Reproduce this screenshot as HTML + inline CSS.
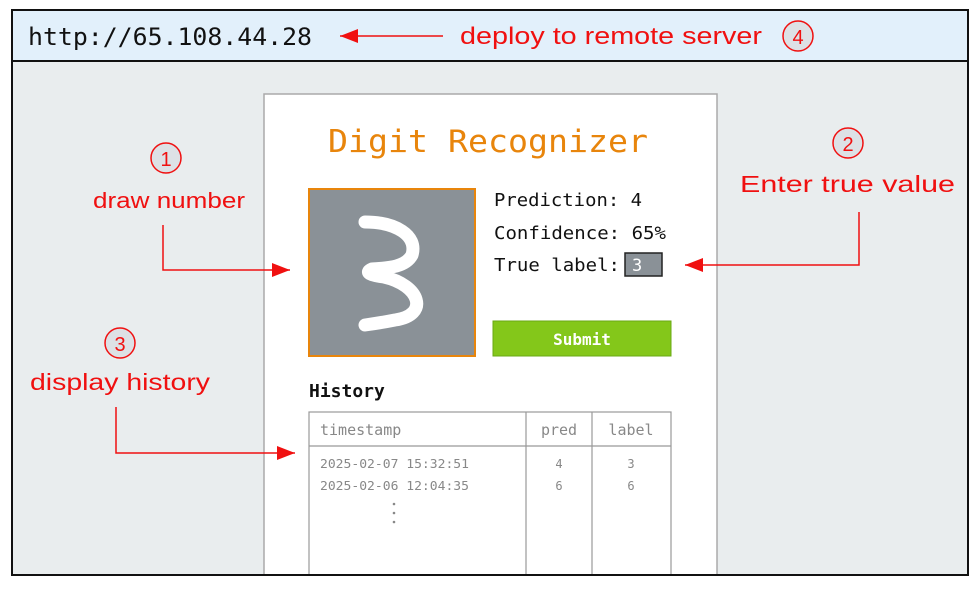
<!DOCTYPE html>
<html><head><meta charset="utf-8"><style>
html,body{margin:0;padding:0;background:#fff;}
svg{display:block}
.m{font-family:"DejaVu Sans Mono","Liberation Mono",monospace}
.h{font-family:"Liberation Sans",sans-serif;fill:#f01010}
</style></head><body>
<svg width="978" height="592" viewBox="0 0 978 592" xmlns="http://www.w3.org/2000/svg">
<defs>
<marker id="ar" viewBox="0 0 18 14" markerWidth="18" markerHeight="14" refX="18" refY="7" orient="auto" markerUnits="userSpaceOnUse"><path d="M0,0 L18,7 L0,14 z" fill="#f01010"/></marker></defs>
<rect x="12" y="10" width="956" height="565" fill="#e9edee" stroke="#111" stroke-width="2"/>
<rect x="12" y="10" width="956" height="51" fill="#e2f0fb" stroke="#111" stroke-width="2"/>
<text x="28" y="45" class="m" font-size="24" fill="#111" textLength="284" lengthAdjust="spacingAndGlyphs">http://65.108.44.28</text>
<line x1="443" y1="36" x2="340" y2="36" stroke="#f01010" stroke-width="1.5" marker-end="url(#ar)"/>
<text x="460" y="44" class="h" font-size="24" textLength="302" lengthAdjust="spacingAndGlyphs">deploy to remote server</text>
<circle cx="798" cy="36" r="15" fill="#dde1e5" stroke="#f01010" stroke-width="1.5"/>
<text x="798" y="44" class="h" font-size="20" text-anchor="middle">4</text>

<rect x="264" y="94" width="453" height="481" fill="#fff" stroke="#aaa" stroke-width="1.5"/>
<text x="328" y="152" class="m" font-size="31" fill="#e8850c" textLength="320" lengthAdjust="spacingAndGlyphs">Digit Recognizer</text>
<rect x="309" y="189" width="166" height="167" fill="#8a9197" stroke="#e8850c" stroke-width="2"/>
<path d="M365,222 C395,222 418,235 412,255 C405,268 385,268 372,269 C365,272 368,275 384,277 C420,285 430,315 395,320 C385,322 372,324 365,325" fill="none" stroke="#fff" stroke-width="13" stroke-linecap="round" stroke-linejoin="round"/>
<text x="494" y="206" class="m" font-size="18" fill="#111" textLength="148" lengthAdjust="spacingAndGlyphs">Prediction: 4</text>
<text x="494" y="239" class="m" font-size="18" fill="#111" textLength="172" lengthAdjust="spacingAndGlyphs">Confidence: 65%</text>
<text x="494" y="271" class="m" font-size="18" fill="#111" textLength="126" lengthAdjust="spacingAndGlyphs">True label:</text>
<rect x="625" y="253" width="37" height="23" fill="#8a9197" stroke="#222" stroke-width="1.5"/>
<text x="632" y="271" class="m" font-size="17" fill="#fff">3</text>
<rect x="493" y="321" width="178" height="35" fill="#84c71a" stroke="#6aa814"/>
<text x="582" y="345" class="m" font-size="16" fill="#fff" text-anchor="middle" font-weight="bold">Submit</text>
<text x="309" y="397" class="m" font-size="18" fill="#111" font-weight="bold">History</text>
<rect x="309" y="412" width="362" height="170" fill="#fff" stroke="#999" stroke-width="1.2"/>
<line x1="309" y1="446" x2="671" y2="446" stroke="#999" stroke-width="1.2"/>
<line x1="526" y1="412" x2="526" y2="580" stroke="#999" stroke-width="1.2"/>
<line x1="592" y1="412" x2="592" y2="580" stroke="#999" stroke-width="1.2"/>
<text x="320" y="435" class="m" font-size="15" fill="#888">timestamp</text>
<text x="559" y="435" class="m" font-size="15" fill="#888" text-anchor="middle">pred</text>
<text x="631" y="435" class="m" font-size="15" fill="#888" text-anchor="middle">label</text>
<g class="m" font-size="12" fill="#888">
<text x="320" y="468" textLength="149" lengthAdjust="spacingAndGlyphs">2025-02-07 15:32:51</text><text x="559" y="468" text-anchor="middle">4</text><text x="631" y="468" text-anchor="middle">3</text>
<text x="320" y="490" textLength="149" lengthAdjust="spacingAndGlyphs">2025-02-06 12:04:35</text><text x="559" y="490" text-anchor="middle">6</text><text x="631" y="490" text-anchor="middle">6</text>
</g>
<circle cx="394" cy="504" r="1.3" fill="#888"/><circle cx="394" cy="513" r="1.3" fill="#888"/><circle cx="394" cy="522" r="1.3" fill="#888"/>
<rect x="0" y="576" width="978" height="16" fill="#fff"/>
<line x1="12" y1="575" x2="968" y2="575" stroke="#111" stroke-width="2"/>

<circle cx="166" cy="158" r="15" fill="#dde1e5" stroke="#f01010" stroke-width="1.5"/>
<text x="166" y="166" class="h" font-size="20" text-anchor="middle">1</text>
<text x="93" y="208" class="h" font-size="22" textLength="152" lengthAdjust="spacingAndGlyphs">draw number</text>
<polyline points="163,225 163,270 290,270" fill="none" stroke="#f01010" stroke-width="1.5" marker-end="url(#ar)"/>
<circle cx="120" cy="343" r="15" fill="#dde1e5" stroke="#f01010" stroke-width="1.5"/>
<text x="120" y="351" class="h" font-size="20" text-anchor="middle">3</text>
<text x="30" y="390" class="h" font-size="23" textLength="180" lengthAdjust="spacingAndGlyphs">display history</text>
<polyline points="116,407 116,453 295,453" fill="none" stroke="#f01010" stroke-width="1.5" marker-end="url(#ar)"/>
<circle cx="848" cy="143" r="15" fill="#dde1e5" stroke="#f01010" stroke-width="1.5"/>
<text x="848" y="151" class="h" font-size="20" text-anchor="middle">2</text>
<text x="740" y="192" class="h" font-size="23" textLength="215" lengthAdjust="spacingAndGlyphs">Enter true value</text>
<polyline points="859,212 859,265 685,265" fill="none" stroke="#f01010" stroke-width="1.5" marker-end="url(#ar)"/>
</svg>
</body></html>
